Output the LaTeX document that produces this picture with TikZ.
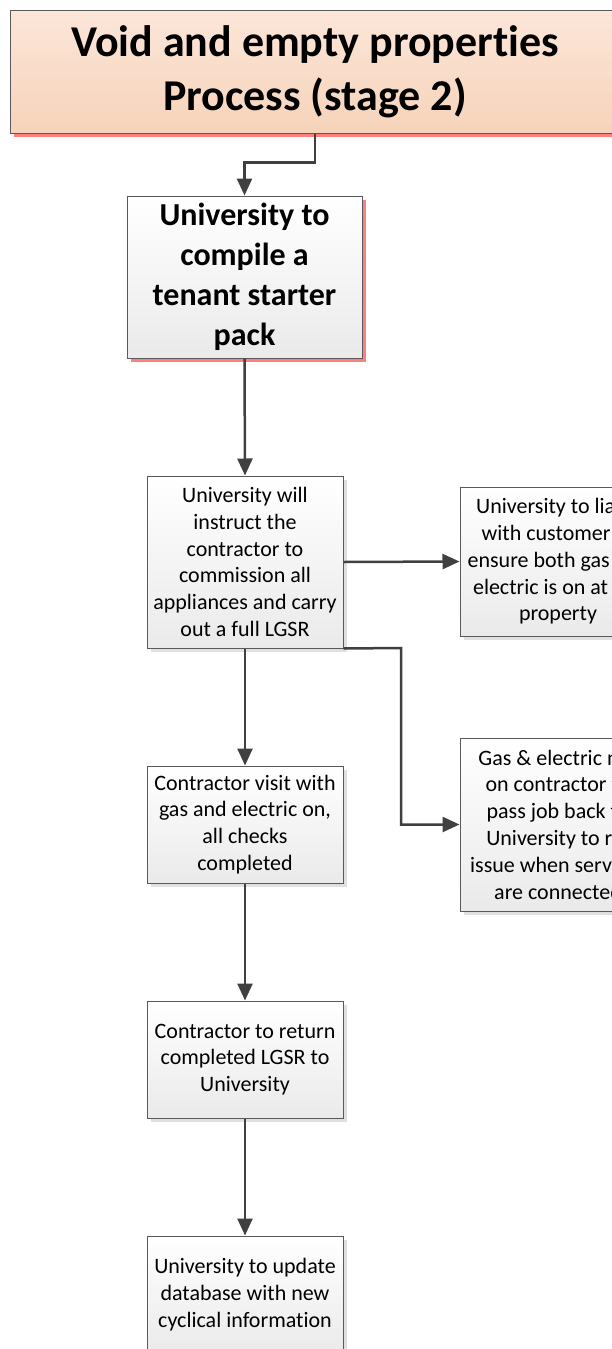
\documentclass[tikz,border=0pt]{standalone}
\usepackage{fontspec}
\setmainfont{Carlito}[Ligatures=NoCommon]
\usetikzlibrary{arrows.meta,shadows,calc}

\definecolor{edge}{HTML}{595959}
\definecolor{wire}{HTML}{404040}
\definecolor{peachtop}{HTML}{FCE6D9}
\definecolor{peachbot}{HTML}{F6D3BA}
\definecolor{redshadow}{HTML}{FF7F7F}
\definecolor{boxbot}{HTML}{EAEAEA}

\tikzset{
  basebox/.style={draw=edge, line width=1pt, inner sep=2pt, align=center,
    text=black, top color=white, bottom color=boxbot},
  stepbox/.style={basebox, minimum width=196pt,
    font=\fontsize{22pt}{26.8pt}\selectfont,
    drop shadow={shadow xshift=4pt, shadow yshift=-4pt, fill=black, opacity=0.12}},
  packbox/.style={basebox, minimum width=235pt, minimum height=162pt,
    font=\bfseries\fontsize{32pt}{40pt}\selectfont,
    drop shadow={shadow xshift=4pt, shadow yshift=-4pt, fill=redshadow, opacity=1}},
  titlebox/.style={draw=edge, line width=1pt, align=center, text=black,
    top color=peachtop, bottom color=peachbot,
    minimum width=610pt, minimum height=123pt,
    font=\bfseries\fontsize{44pt}{53.7pt}\selectfont,
    drop shadow={shadow xshift=4pt, shadow yshift=-4pt, fill=redshadow, opacity=1}},
  link/.style={draw=wire, line width=2.5pt,
    -{Triangle[length=17pt, width=15pt]}},
}

\begin{document}
\begin{tikzpicture}[x=1pt, y=-1pt]
  \useasboundingbox (0,0) rectangle (612,1349);
  \fill[white] (0,0) rectangle (612,1349);

  % heading
  \node[titlebox] (title) at (315,71.5) {Void and empty properties\\Process (stage 2)};

  % main column
  \node[packbox] (pack) at (244.5,277) {University to\\compile a\\tenant starter\\pack};
  \node[stepbox, minimum height=172pt] (instruct) at (245,562)
    {University will\\instruct the\\contractor to\\commission all\\appliances and carry\\out a full LGSR};
  \node[stepbox, minimum height=117pt] (visit) at (245,824.5)
    {Contractor visit with\\gas and electric on,\\all checks\\completed};
  \node[stepbox, minimum height=117pt] (return) at (245,1059.5)
    {Contractor to return\\completed LGSR to\\University};
  \node[stepbox, minimum height=117pt] (update) at (245,1294.5)
    {University to update\\database with new\\cyclical information};

  % side branch
  \node[stepbox, minimum height=149pt] (liaise) at (558,561.5)
    {University to liaise\\with customer to\\ensure both gas and\\electric is on at the\\property};
  \node[stepbox, minimum height=173pt] (noservice) at (558,824.5)
    {Gas \& electric not\\on contractor to\\pass job back to\\University to re-\\issue when services\\are connected};

  % connectors
  \draw[link] (title.south -| 315,0) -- ++(0,29) -| (pack.north);
  \draw[link] (pack.south) -- (instruct.north);
  \draw[link] (instruct.east) -- (liaise.west);
  \coordinate (bend) at (401,648);
  \draw[link] (instruct.south east) -- (bend) |- (noservice.west);
  \draw[link] (instruct.south) -- (visit.north);
  \draw[link] (visit.south) -- (return.north);
  \draw[link] (return.south) -- (update.north);
\end{tikzpicture}
\end{document}
